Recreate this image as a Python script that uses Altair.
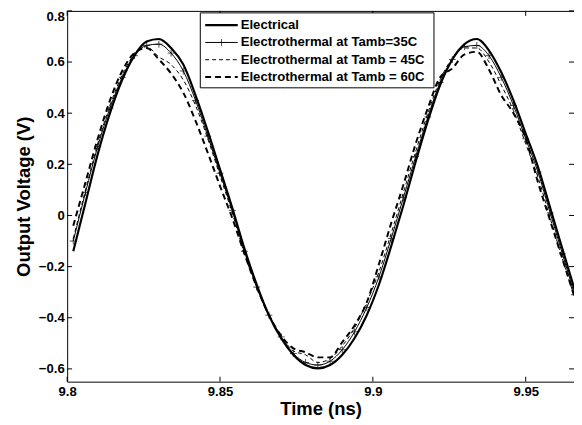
import altair as alt
import pandas as pd

# ---- data ----
time_ns = [9.802, 9.806, 9.810, 9.814, 9.818, 9.822, 9.826, 9.830, 9.834, 9.838,
           9.842, 9.846, 9.850, 9.854, 9.858, 9.862, 9.866, 9.870, 9.874, 9.878,
           9.882, 9.886, 9.890, 9.894, 9.898, 9.902, 9.906, 9.910, 9.914, 9.918,
           9.922, 9.926, 9.930, 9.934, 9.938, 9.942, 9.946, 9.950, 9.954, 9.958,
           9.962, 9.966]
electrical = [-0.14, 0.05, 0.24, 0.40, 0.53, 0.625, 0.68, 0.69, 0.655, 0.59,
              0.47, 0.33, 0.18, 0.03, -0.13, -0.27, -0.39, -0.48, -0.545, -0.585,
              -0.598, -0.585, -0.545, -0.48, -0.39, -0.27, -0.12, 0.04, 0.21, 0.37,
              0.51, 0.61, 0.67, 0.69, 0.645, 0.56, 0.45, 0.32, 0.19, 0.03,
              -0.13, -0.29]
et_35 = [-0.10, 0.09, 0.27, 0.42, 0.54, 0.625, 0.665, 0.67, 0.635, 0.565,
         0.45, 0.31, 0.165, 0.02, -0.14, -0.28, -0.39, -0.475, -0.54, -0.575,
         -0.585, -0.57, -0.525, -0.455, -0.36, -0.24, -0.09, 0.07, 0.23, 0.385,
         0.52, 0.61, 0.66, 0.665, 0.625, 0.54, 0.43, 0.30, 0.17, 0.01,
         -0.15, -0.31]
et_45 = [-0.09, 0.10, 0.28, 0.43, 0.55, 0.63, 0.66, 0.62, 0.59, 0.53,
         0.43, 0.30, 0.155, 0.01, -0.15, -0.28, -0.39, -0.47, -0.53, -0.545,
         -0.575, -0.56, -0.51, -0.44, -0.34, -0.22, -0.07, 0.09, 0.25, 0.40,
         0.53, 0.615, 0.655, 0.655, 0.60, 0.51, 0.41, 0.28, 0.15, -0.01,
         -0.17, -0.32]
et_60 = [-0.04, 0.13, 0.30, 0.45, 0.565, 0.635, 0.655, 0.61, 0.555, 0.48,
         0.37, 0.245, 0.115, -0.01, -0.15, -0.28, -0.39, -0.47, -0.52, -0.535,
         -0.555, -0.555, -0.495, -0.43, -0.34, -0.19, -0.03, 0.12, 0.28, 0.42,
         0.54, 0.575, 0.63, 0.64, 0.57, 0.47, 0.40, 0.30, 0.13, -0.02,
         -0.17, -0.32]
series_names = ["Electrical", "Electrothermal at Tamb=35C",
                "Electrothermal at Tamb = 45C", "Electrothermal at Tamb = 60C"]
x_ticks = [9.8, 9.85, 9.9, 9.95]
y_ticks = [-0.6, -0.4, -0.2, 0, 0.2, 0.4, 0.6, 0.8]

rows = []
for name, vals in zip(series_names, [electrical, et_35, et_45, et_60]):
    for t, v in zip(time_ns, vals):
        rows.append({"t": t, "v": v, "series": name})
df = pd.DataFrame(rows)
xt_df = pd.DataFrame({"xt": x_ticks})
yt_df = pd.DataFrame({"yt": y_ticks})
leg_df = pd.DataFrame({"series": series_names, "idx": list(range(len(series_names)))})

# ---- styles ----
W, H = 514, 376
FONT = "Liberation Sans"
PLUS = "M-1,0H1M0,-1V1"
DASHES = [None, None, [4, 3], [6, 4]]
WIDTHS = [2.2, 1, 1, 2]

xs = alt.Scale(domain=[9.8, 9.9658], nice=False, zero=False)
ys = alt.Scale(domain=[-0.65, 0.8], nice=False, zero=False)

x_axis = alt.Axis(values=x_ticks, format="~g", title="Time (ns)", labelFlush=False,
                  labelPadding=3, titlePadding=2)
y_axis = alt.Axis(values=y_ticks, format="~g", title="Output Voltage (V)", labelFlush=True,
                  labelFlushOffset=1, labelPadding=3, titlePadding=5)

layers = []
for i, name in enumerate(series_names):
    style = dict(color="black", interpolate="monotone", clip=True, strokeWidth=WIDTHS[i])
    if DASHES[i] is not None:
        style["strokeDash"] = DASHES[i]
    if i == 0:
        enc = dict(x=alt.X("t:Q", scale=xs, axis=x_axis), y=alt.Y("v:Q", scale=ys, axis=y_axis))
    else:
        enc = dict(x=alt.X("t:Q", scale=xs), y=alt.Y("v:Q", scale=ys))
    layers.append(
        alt.Chart(df).transform_filter(alt.datum.series == name).mark_line(**style).encode(**enc)
    )

markers = alt.Chart(df).transform_filter(
    alt.datum.series == series_names[1]
).mark_point(shape=PLUS, filled=False, color="black", size=49, strokeWidth=1, clip=True).encode(
    x=alt.X("t:Q", scale=xs), y=alt.Y("v:Q", scale=ys)
)
layers.append(markers)

tick_style = dict(color="black", strokeWidth=1)
layers += [
    alt.Chart(xt_df).mark_rule(**tick_style).encode(
        x=alt.X("xt:Q", scale=xs), y=alt.value(H), y2=alt.value(H - 5)),
    alt.Chart(xt_df).mark_rule(**tick_style).encode(
        x=alt.X("xt:Q", scale=xs), y=alt.value(0), y2=alt.value(5)),
    alt.Chart(yt_df).mark_rule(**tick_style).encode(
        y=alt.Y("yt:Q", scale=ys), x=alt.value(0), x2=alt.value(5)),
    alt.Chart(yt_df).mark_rule(**tick_style).encode(
        y=alt.Y("yt:Q", scale=ys), x=alt.value(W - 5), x2=alt.value(W)),
    alt.Chart(xt_df).transform_aggregate(n="count()").mark_rule(color="black", strokeWidth=1).encode(
        x=alt.value(0), x2=alt.value(W), y=alt.value(0.5)),
]

# ---- legend ----
layers.append(
    alt.Chart(leg_df).transform_aggregate(n="count()").mark_rect(
        fill="white", stroke="black", strokeWidth=1).encode(
        x=alt.value(135), x2=alt.value(372), y=alt.value(2), y2=alt.value(78))
)
leg_base = alt.Chart(leg_df).transform_calculate(ly="14.5 + 17.5*datum.idx")
for i, name in enumerate(series_names):
    style = dict(color="black", strokeWidth=WIDTHS[i])
    if DASHES[i] is not None:
        style["strokeDash"] = DASHES[i]
    layers.append(
        leg_base.transform_filter(alt.datum.idx == i).mark_rule(**style).encode(
            x=alt.value(140), x2=alt.value(173), y=alt.Y("ly:Q", scale=None, axis=None))
    )
layers.append(
    leg_base.transform_filter(alt.datum.idx == 1).mark_point(
        shape=PLUS, filled=False, color="black", size=49, strokeWidth=1).encode(
        x=alt.value(156.5), y=alt.Y("ly:Q", scale=None, axis=None))
)
layers.append(
    leg_base.mark_text(align="left", baseline="middle", font=FONT, fontWeight="bold",
                       fontSize=13.3, color="black").encode(
        x=alt.value(176), y=alt.Y("ly:Q", scale=None, axis=None), text="series:N")
)

chart = alt.layer(*layers).properties(
    width=W, height=H,
    autosize=alt.AutoSizeParams(type="none"),
    padding={"left": 60, "top": 0, "right": 0, "bottom": 41},
).configure_view(stroke=None).configure_axis(
    labelFont=FONT, labelFontWeight="bold", labelFontSize=13.3, labelColor="black",
    titleFont=FONT, titleFontWeight="bold", titleFontSize=18.7, titleColor="black",
    domainColor="black", domainWidth=1, ticks=False, grid=False,
)

chart.save("out.html", embed_options={"renderer": "svg", "actions": False})
